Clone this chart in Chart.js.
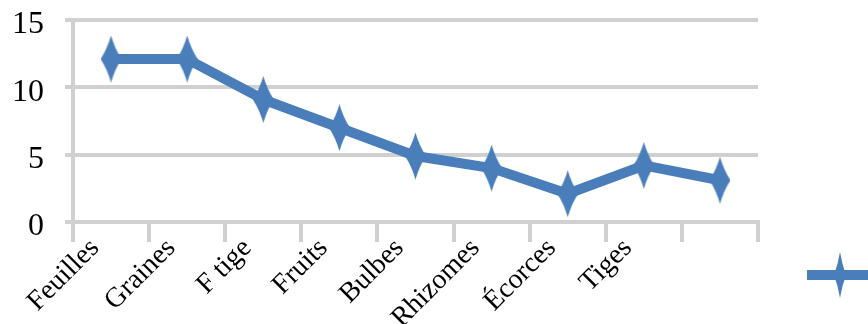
<!DOCTYPE html>
<html lang="fr">
<head>
<meta charset="utf-8">
<title>Parties utilisées</title>
<script src="https://cdn.jsdelivr.net/npm/chart.js@4"></script>
<style>
  html, body { margin: 0; padding: 0; background: #fff; overflow: hidden; }
  #wrap { position: relative; width: 868px; height: 324px; }
  #chart { filter: blur(0.5px); }
</style>
</head>
<body>
<div id="wrap"><canvas id="chart"></canvas></div>
<script>
// valeurs
const CATEGORIES = ["Feuilles", "Graines", "F tige", "Fruits", "Bulbes", "Rhizomes", "Écorces", "Tiges", ""];
const VALEURS = [12.1, 12.1, 9.1, 7.0, 4.9, 4.0, 2.1, 4.2, 3.1];
const Y_TICKS = [0, 5, 10, 15];

const BLEU = "#4a7ebb";
const GRIS = "#d0d0d0";
const SERIF = "'Liberation Serif', 'Times New Roman', serif";

// losange étiré (marqueur Excel), avec un trait horizontal pour la légende
function losange(largeur, hauteur, trait) {
  const c = document.createElement("canvas");
  c.width = trait || largeur;
  c.height = hauteur;
  const g = c.getContext("2d");
  g.fillStyle = BLEU;
  const cx = c.width / 2, cy = hauteur / 2;
  if (trait) g.fillRect(0, cy - 5, trait, 10);
  g.beginPath();
  g.moveTo(cx, 0);
  g.quadraticCurveTo(cx + largeur * 0.18, cy - hauteur * 0.22, cx + largeur / 2, cy);
  g.quadraticCurveTo(cx + largeur * 0.18, cy + hauteur * 0.22, cx, hauteur);
  g.quadraticCurveTo(cx - largeur * 0.18, cy + hauteur * 0.22, cx - largeur / 2, cy);
  g.quadraticCurveTo(cx - largeur * 0.18, cy - hauteur * 0.22, cx, 0);
  g.fill();
  return c;
}

const marqueur = losange(21, 47);
const marqueurLegende = losange(12, 46, 66);

new Chart(document.getElementById("chart"), {
  type: "line",
  data: {
    labels: CATEGORIES,
    datasets: [{
      label: "",
      data: VALEURS,
      borderColor: BLEU,
      backgroundColor: BLEU,
      borderWidth: 10,
      borderJoinStyle: "round",
      tension: 0,
      pointStyle: marqueur,
      pointRadius: 10,
      pointHoverRadius: 10,
    }],
  },
  options: {
    responsive: true,
    maintainAspectRatio: false,
    animation: false,
    layout: { padding: 0 },
    plugins: {
      tooltip: { enabled: false },
      legend: {
        position: "right",
        align: "end",
        maxWidth: 110,
        labels: {
          usePointStyle: true,
          pointStyle: marqueurLegende,
          pointStyleWidth: 78,
          padding: 43,
          font: { size: 12 },
        },
      },
    },
    scales: {
      x: {
        offset: true,
        grid: { offset: true, drawOnChartArea: false, tickLength: 20, lineWidth: 4, color: GRIS },
        border: { display: true, color: GRIS, width: 4 },
        ticks: {
          autoSkip: false,
          minRotation: 45,
          maxRotation: 45,
          labelOffset: -16,
          padding: -10,
          color: "#000",
          font: { family: SERIF, size: 28 },
        },
        afterFit: (s) => { s.height = 102; s.paddingLeft = 0; s.paddingRight = 0; },
      },
      y: {
        min: Y_TICKS[0],
        max: Y_TICKS[Y_TICKS.length - 1],
        ticks: {
          stepSize: Y_TICKS[1] - Y_TICKS[0],
          padding: 21,
          labelOffset: 5,
          color: "#000",
          font: { family: SERIF, size: 32 },
        },
        grid: { lineWidth: 4, color: GRIS, tickLength: 8 },
        border: { display: true, color: GRIS, width: 4 },
        afterFit: (s) => { s.width = 73; s.paddingTop = 15; s.paddingBottom = 0; },
      },
    },
  },
});
</script>
</body>
</html>
